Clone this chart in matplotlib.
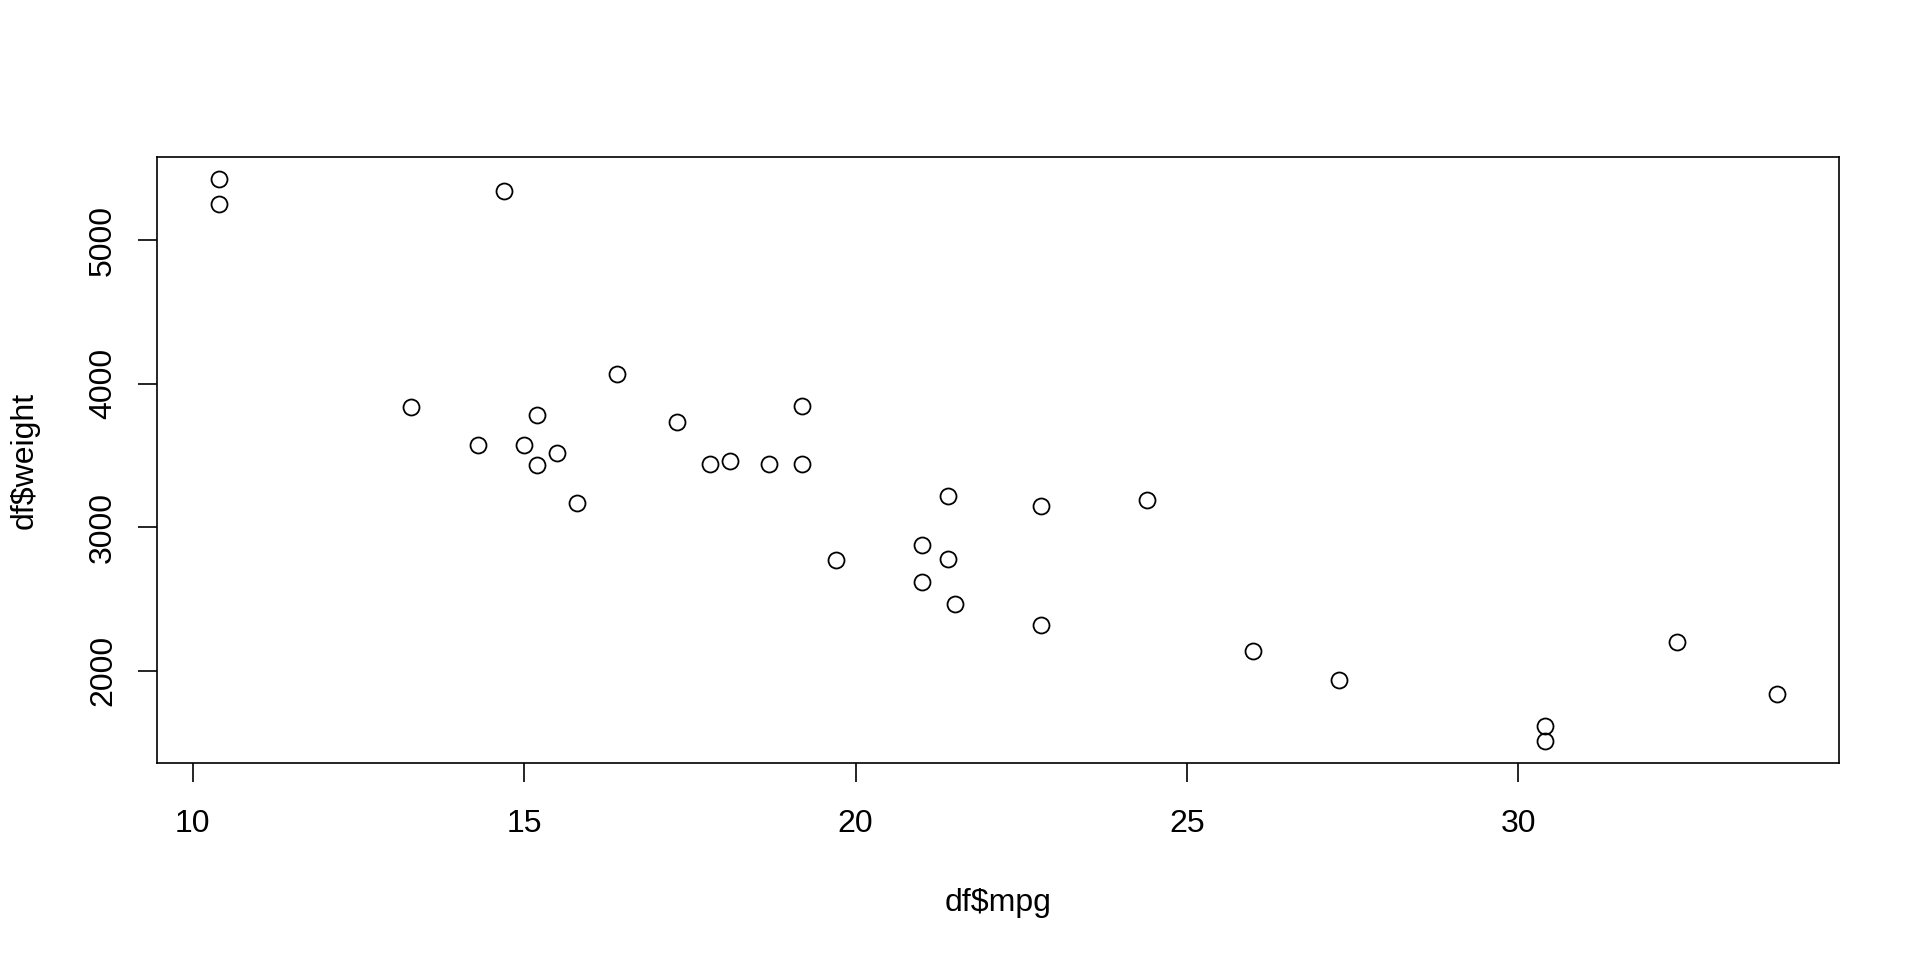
import matplotlib
matplotlib.use('Agg')
import matplotlib.pyplot as plt

# mtcars: mpg vs weight (lbs)
mpg = [21.0, 21.0, 22.8, 21.4, 18.7, 18.1, 14.3, 24.4, 22.8, 19.2, 17.8,
       16.4, 17.3, 15.2, 10.4, 10.4, 14.7, 32.4, 30.4, 33.9, 21.5, 15.5,
       15.2, 13.3, 19.2, 27.3, 26.0, 30.4, 15.8, 19.7, 15.0, 21.4]
weight = [2620, 2875, 2320, 3215, 3440, 3460, 3570, 3190, 3150, 3440, 3440,
          4070, 3730, 3780, 5250, 5424, 5345, 2200, 1615, 1835, 2465, 3520,
          3435, 3840, 3845, 1935, 2140, 1513, 3170, 2770, 3570, 2780]
xticks = [10, 15, 20, 25, 30]
yticks = [2000, 3000, 4000, 5000]

plt.rcParams['font.family'] = ['Liberation Sans', 'DejaVu Sans']
fs = 23

fig = plt.figure(figsize=(19.2, 9.6), dpi=100)
ax = fig.add_axes([157/1920, 1 - 763/960, (1839-157)/1920, (763-157)/960])

ax.plot(mpg, weight, 'o', mfc='none', mec='black', ms=11.5, mew=1.3)

# R style 4% padding
def pad(v):
    lo, hi = min(v), max(v)
    d = (hi - lo) * 0.04
    return lo - d, hi + d

ax.set_xlim(*pad(mpg))
ax.set_ylim(*pad(weight))
ax.set_xticks(xticks)
ax.set_yticks(yticks)
ax.set_xticklabels([str(t) for t in xticks])
ax.set_yticklabels([str(t) for t in yticks], rotation=90, va='center')

for s in ax.spines.values():
    s.set_linewidth(1.2)
ax.tick_params(axis='both', direction='out', length=14, width=1.2,
               labelsize=fs, colors='black')
ax.tick_params(axis='x', pad=19)
ax.tick_params(axis='y', pad=14)

fig.text(998/1920, 1 - 911/960, 'df$mpg', fontsize=fs, ha='center', va='baseline')
fig.text(33/1920, 1 - 460/960, 'df$weight', fontsize=fs, ha='center', va='baseline',
         rotation=90, rotation_mode='anchor')

fig.savefig('out.png', dpi=100)
